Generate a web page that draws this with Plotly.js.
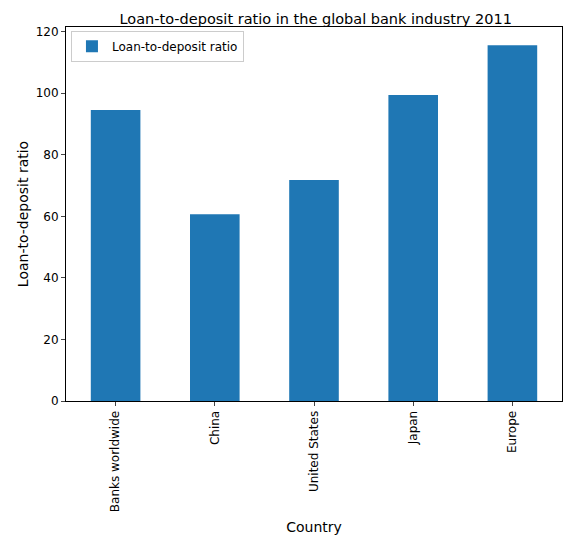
<!DOCTYPE html>
<html>
<head>
<script src="https://cdn.plot.ly/plotly-3.0.1.min.js"></script>
<style>body{margin:0;}</style>
</head>
<body>
<div id="chart" style="width:571px;height:558px;"></div>
<script>
const countries = ['Banks worldwide', 'China', 'United States', 'Japan', 'Europe'];
const ratios = [94.5, 60.7, 71.8, 99.4, 115.6];

const trace = {
    x: countries,
    y: ratios,
    type: 'bar',
    name: 'Loan-to-deposit ratio',
    marker: { color: '#1f77b4' }
};

const layout = {
    width: 571,
    height: 558,
    font: { family: 'DejaVu Sans', size: 12, color: '#000' },
    title: { text: 'Loan-to-deposit ratio in the global bank industry 2011', font: { size: 14.5 }, x: 0.553, y: 0.975 },
    margin: { l: 66, r: 9, t: 27, b: 157 },
    bargap: 0.5,
    showlegend: true,
    legend: { x: 0.01, y: 0.99, bgcolor: 'rgba(255,255,255,0.8)', bordercolor: '#ccc', borderwidth: 1 },
    xaxis: {
        title: { text: 'Country', standoff: 10 },
        tickangle: -90,
        showline: true, linecolor: '#000', mirror: true,
        ticks: 'outside', ticklen: 4
    },
    yaxis: {
        title: { text: 'Loan-to-deposit ratio' },
        range: [0, 121.5],
        dtick: 20,
        showgrid: false, zeroline: false,
        showline: true, linecolor: '#000', mirror: true,
        ticks: 'outside', ticklen: 4
    },
    plot_bgcolor: '#fff'
};

Plotly.newPlot('chart', [trace], layout, { displayModeBar: false });
</script>
</body>
</html>
